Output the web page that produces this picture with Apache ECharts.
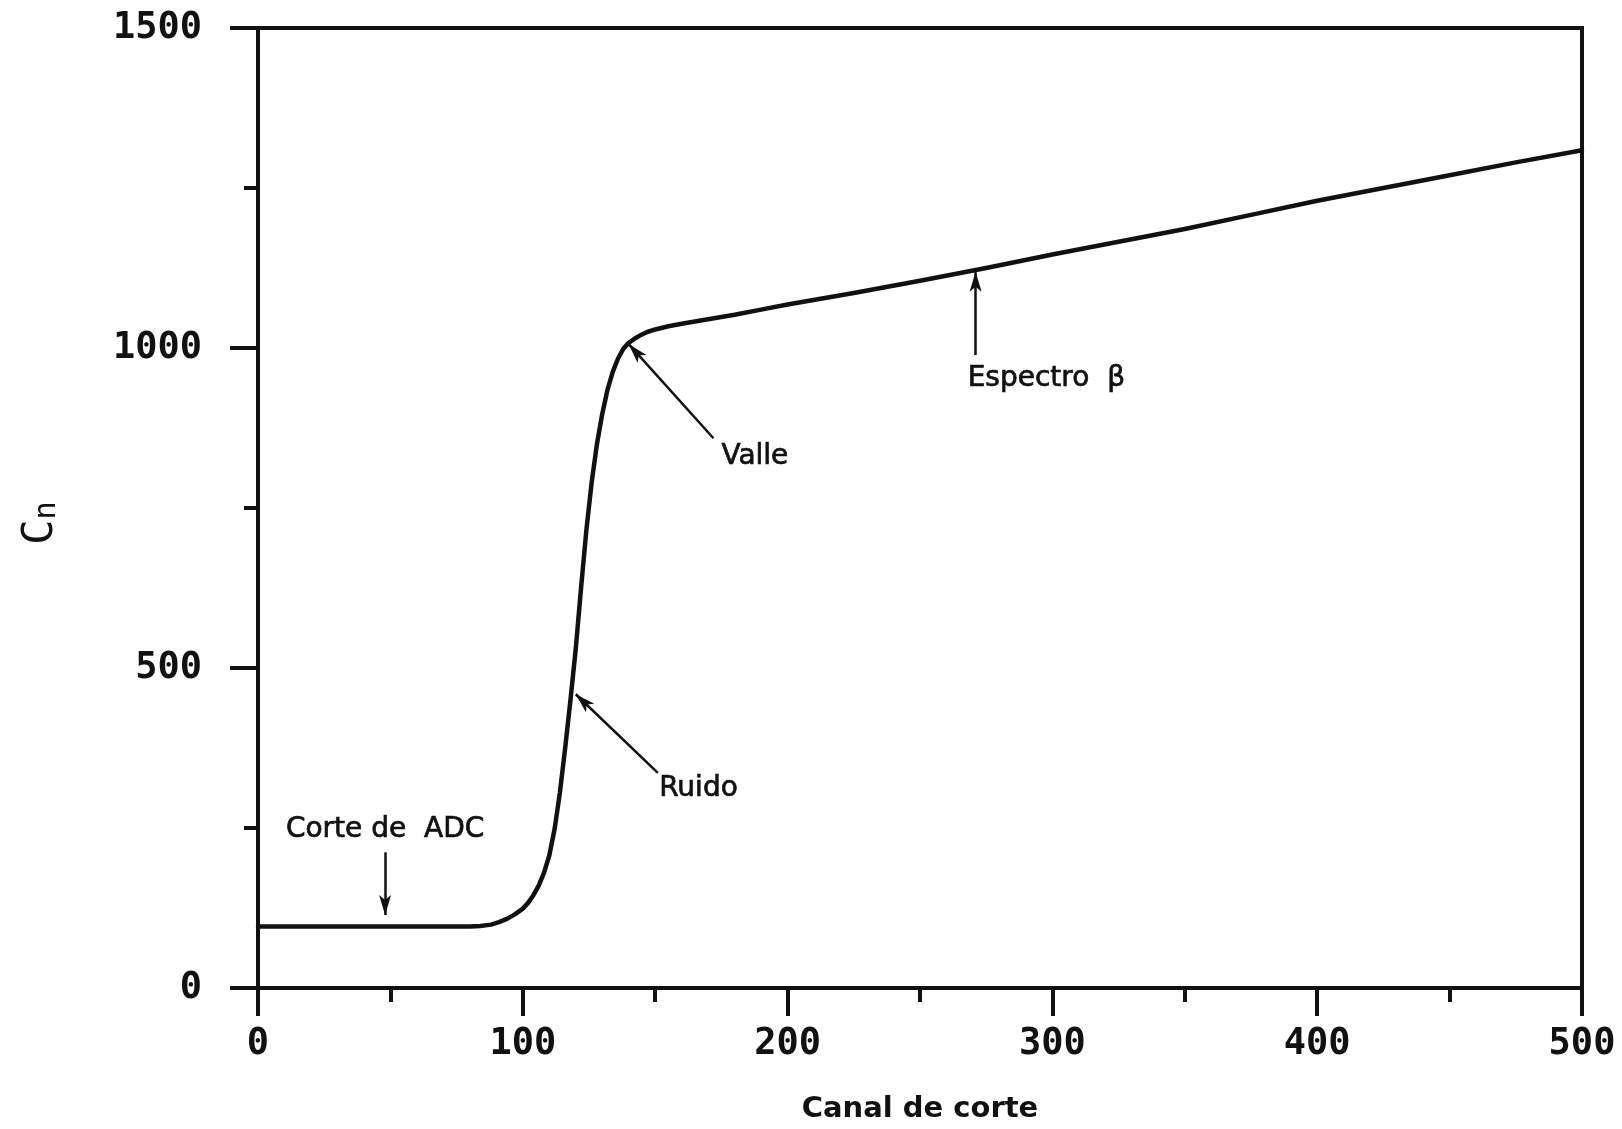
<!DOCTYPE html>
<html>
<head>
<meta charset="utf-8">
<script src="https://cdn.jsdelivr.net/npm/echarts@6/dist/echarts.min.js"></script>
<style>
  html, body { margin: 0; padding: 0; background: #fff; }
  #chart { width: 1622px; height: 1129px; }
</style>
</head>
<body>
<div id="chart"></div>
<script>
// ---- Data ----
const channel = [0, 10, 20, 30, 40, 50, 60, 70, 80, 84, 88, 91, 94, 97, 100, 102, 104, 106, 108, 110, 112, 114, 116, 118, 120, 122, 124, 126, 128, 130, 132, 134, 136, 138, 140, 142, 144, 147, 150, 155, 160, 170, 180, 190, 200, 225, 250, 275, 300, 325, 350, 375, 400, 425, 450, 475, 500];
const counts  = [96, 96, 96, 96, 96, 96, 96, 96, 96, 97, 99, 103, 108, 115, 124, 133, 145, 160, 180, 207, 248, 305, 375, 450, 530, 625, 715, 790, 850, 897, 935, 963, 984, 999, 1008, 1014, 1019, 1025, 1029, 1034, 1038, 1045, 1052, 1060, 1068, 1086, 1105, 1125, 1146, 1166, 1186, 1208, 1230, 1250, 1270, 1290, 1309];

const xTicks = [0, 100, 200, 300, 400, 500];
const yTicks = [0, 500, 1000, 1500];

const annotationText  = ['Corte de  ADC', 'Ruido', 'Valle', 'Espectro  β'];
const annotationX     = [48, 151.5, 175, 268];
const annotationY     = [247, 312, 830, 952];
const annotationAlign = ['center', 'left', 'left', 'left'];

const arrowFromX = [48, 151, 172, 271];
const arrowFromY = [212, 336, 859, 989];
const arrowToX   = [48, 120, 140, 271];
const arrowToY   = [114, 459, 1006, 1119];

// ---- Chart ----
const chart = echarts.init(document.getElementById('chart'), null, { renderer: 'canvas' });
const monoFont = '"DejaVu Sans Mono", "Liberation Mono", monospace';
const sansFont = '"DejaVu Sans", "Liberation Sans", sans-serif';
const ink = '#111';

const series = [
  {
    type: 'line',
    data: channel.map((c, i) => [c, counts[i]]),
    showSymbol: false,
    smooth: false,
    lineStyle: { color: ink, width: 4.5, join: 'round', cap: 'round' },
    z: 3,
    markLine: {
      silent: true,
      symbol: ['none', 'arrow'],
      symbolSize: [9, 20],
      lineStyle: { color: ink, width: 2.5, type: 'solid' },
      label: { show: false },
      data: arrowFromX.map((fx, i) => [
        { coord: [fx, arrowFromY[i]] },
        { coord: [arrowToX[i], arrowToY[i]] }
      ])
    }
  },
  {
    type: 'scatter',
    symbolSize: 0,
    silent: true,
    itemStyle: { opacity: 1, color: ink },
    data: annotationText.map((t, i) => ({
      name: t,
      value: [annotationX[i], annotationY[i]],
      label: { align: annotationAlign[i] }
    })),
    label: {
      show: true,
      position: 'inside',
      verticalAlign: 'middle',
      formatter: p => p.name,
      color: ink,
      opacity: 1,
      textBorderColor: ink,
      textBorderWidth: 0.7,
      fontFamily: sansFont,
      fontSize: 28
    },
    z: 4
  }
];

const option = {
  animation: false,
  backgroundColor: '#fff',
  grid: {
    left: 258, right: 40, top: 28, bottom: 141,
    show: true, borderColor: ink, borderWidth: 4, backgroundColor: 'transparent'
  },
  xAxis: {
    type: 'value',
    min: xTicks[0], max: xTicks[xTicks.length - 1], interval: 100,
    name: 'Canal de corte',
    nameLocation: 'middle',
    nameGap: 107,
    nameTextStyle: { color: ink, fontFamily: sansFont, fontSize: 29, fontWeight: 'bold' },
    axisLine: { show: true, onZero: false, lineStyle: { color: ink, width: 4 } },
    axisTick: { show: true, length: 28, lineStyle: { color: ink, width: 4 } },
    minorTick: { show: true, splitNumber: 2, length: 14, lineStyle: { color: ink, width: 4 } },
    splitLine: { show: false },
    minorSplitLine: { show: false },
    axisLabel: { margin: 38, color: ink, fontFamily: monoFont, fontSize: 37, fontWeight: 'bold', formatter: v => String(v) }
  },
  yAxis: {
    type: 'value',
    min: yTicks[0], max: yTicks[yTicks.length - 1], interval: 500,
    name: '{c|C}{n|n}',
    nameLocation: 'middle',
    nameGap: 196,
    nameRotate: 90,
    nameTextStyle: {
      color: ink,
      padding: [0, 30, 0, 0],
      rich: {
        c: { fontFamily: monoFont, fontSize: 42, color: ink, verticalAlign: 'top', lineHeight: 42 },
        n: { fontFamily: monoFont, fontSize: 30, color: ink, verticalAlign: 'bottom', lineHeight: 30, padding: [22, 0, 0, 0] }
      }
    },
    axisLine: { show: true, onZero: false, lineStyle: { color: ink, width: 4 } },
    axisTick: { show: true, length: 28, lineStyle: { color: ink, width: 4 } },
    minorTick: { show: true, splitNumber: 2, length: 14, lineStyle: { color: ink, width: 4 } },
    splitLine: { show: false },
    minorSplitLine: { show: false },
    axisLabel: { margin: 56, color: ink, fontFamily: monoFont, fontSize: 37, fontWeight: 'bold', formatter: v => String(v) }
  },
  series: series
};
chart.setOption(option);
</script>
</body>
</html>
